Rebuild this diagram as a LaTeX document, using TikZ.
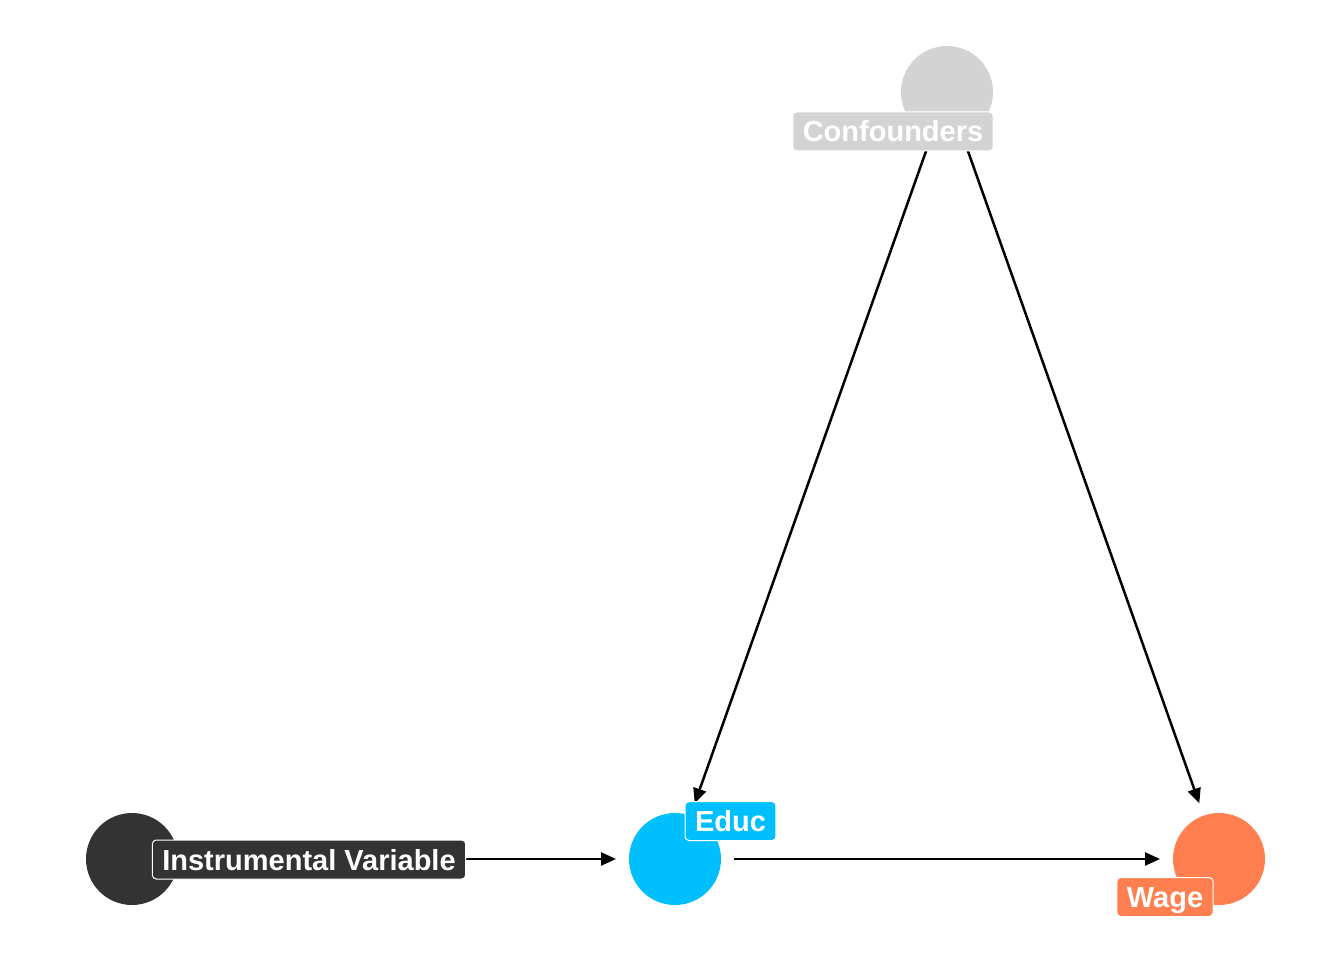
\documentclass[tikz,border=0pt]{standalone}
\usepackage{fontspec}
\setmainfont{Liberation Sans}
\usetikzlibrary{arrows.meta}
\definecolor{cgray}{HTML}{D3D3D3}
\definecolor{cdark}{HTML}{333333}
\definecolor{cblue}{HTML}{00BFFF}
\definecolor{ccoral}{HTML}{FF7F50}
\begin{document}
\begin{tikzpicture}[x=1pt,y=-1pt,
  dot/.style={circle,minimum size=92pt,inner sep=0pt,fill=#1},
  lab/.style={fill=#1,draw=white,line width=1pt,rounded corners=4pt,text=white,
    font=\fontsize{29}{29}\selectfont\bfseries,inner xsep=10pt,inner ysep=6pt,
    text height=24pt,text depth=3pt},
  edge/.style={line width=2.5pt,-{Triangle[length=15pt,width=13pt]},shorten >=59pt,shorten <=59pt}]
\useasboundingbox (0,0) rectangle (1344,960);
\node[dot=cgray] (conf) at (947,92) {};
\node[dot=cdark] (iv) at (132,859) {};
\node[dot=cblue] (educ) at (675,859) {};
\node[dot=ccoral] (wage) at (1219,859) {};
\draw[edge] (conf.center) -- (educ.center);
\draw[edge] (conf.center) -- (wage.center);
\draw[edge] (iv.center) -- (educ.center);
\draw[edge] (educ.center) -- (wage.center);
\node[lab=cgray] (lconf) at (893,131.5) {Confounders};
\node[lab=cdark] (liv) at (309,859.5) {Instrumental Variable};
\node[lab=cblue] (leduc) at (730.5,821) {Educ};
\node[lab=ccoral] (lwage) at (1165,897) {Wage};
\end{tikzpicture}
\end{document}
